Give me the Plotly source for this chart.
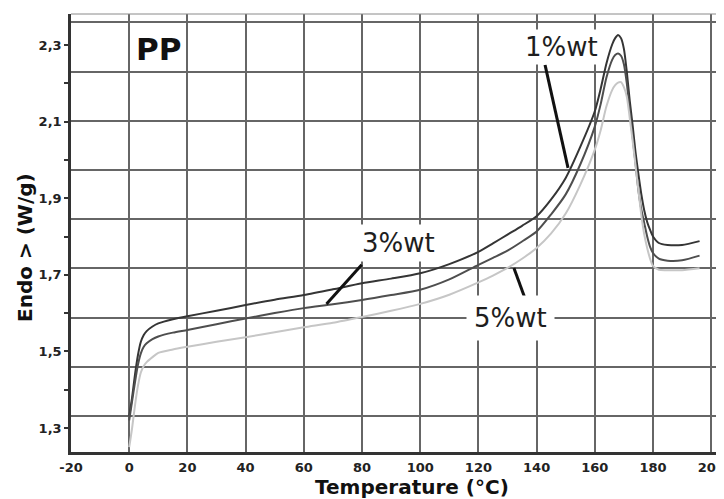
import plotly.graph_objects as go

# ---------------- data ----------------
temp_1 = [0, 1, 2, 3, 4, 5, 6, 8, 10, 15, 20, 30, 40, 50, 60, 70, 80, 90, 100, 110, 120, 125, 130,
          135, 140, 145, 150, 155, 160, 162, 164, 166, 167, 168, 169, 170, 171, 172, 173, 174, 175,
          176, 177, 178, 179, 180, 182, 185, 190, 196]
endo_1 = [1.33, 1.38, 1.44, 1.49, 1.525, 1.543, 1.553, 1.565, 1.573, 1.584, 1.592, 1.606, 1.621,
          1.635, 1.647, 1.662, 1.678, 1.690, 1.704, 1.728, 1.760, 1.782, 1.805, 1.828, 1.853,
          1.897, 1.953, 2.034, 2.127, 2.185, 2.252, 2.302, 2.318, 2.326, 2.318, 2.290, 2.230,
          2.155, 2.090, 2.020, 1.962, 1.910, 1.868, 1.838, 1.817, 1.800, 1.783, 1.778, 1.778, 1.788]

temp_3 = [0, 1, 2, 3, 4, 5, 6, 8, 10, 15, 20, 30, 40, 50, 60, 70, 80, 90, 100, 110, 120, 125, 130,
          135, 140, 145, 150, 155, 160, 162, 164, 166, 167, 168, 169, 170, 171, 172, 173, 174, 175,
          176, 177, 178, 179, 180, 182, 185, 190, 196]
endo_3 = [1.32, 1.37, 1.42, 1.465, 1.495, 1.512, 1.521, 1.532, 1.539, 1.549, 1.556, 1.571, 1.586,
          1.600, 1.613, 1.623, 1.634, 1.647, 1.661, 1.688, 1.726, 1.744, 1.763, 1.787, 1.813,
          1.858, 1.910, 1.988, 2.087, 2.145, 2.215, 2.262, 2.274, 2.278, 2.272, 2.250, 2.200,
          2.130, 2.060, 1.990, 1.920, 1.870, 1.835, 1.800, 1.773, 1.757, 1.742, 1.737, 1.738, 1.750]

temp_5 = [0, 1, 2, 3, 4, 5, 6, 8, 10, 15, 20, 30, 40, 50, 60, 70, 80, 90, 100, 110, 120, 125, 130,
          135, 140, 145, 150, 155, 160, 162, 164, 166, 167, 168, 169, 170, 171, 172, 173, 174, 175,
          176, 177, 178, 179, 180, 182, 185, 190, 196]
endo_5 = [1.25, 1.30, 1.36, 1.41, 1.445, 1.462, 1.472, 1.485, 1.496, 1.505, 1.512, 1.525, 1.537,
          1.550, 1.563, 1.575, 1.590, 1.606, 1.624, 1.648, 1.680, 1.698, 1.718, 1.742, 1.770,
          1.808, 1.860, 1.935, 2.027, 2.077, 2.140, 2.183, 2.195, 2.202, 2.203, 2.190, 2.165,
          2.110, 2.050, 1.985, 1.920, 1.855, 1.805, 1.770, 1.742, 1.723, 1.713, 1.712, 1.712, 1.717]

series_names = ["1%wt", "3%wt", "5%wt"]

x_tick_vals = [-20, 0, 20, 40, 60, 80, 100, 120, 140, 160, 180, 200]
x_tick_text = ["-20", "0", "20", "40", "60", "80", "100", "120", "140", "160", "180", "200"]
y_tick_vals = [1.3, 1.4, 1.5, 1.6, 1.7, 1.8, 1.9, 2.0, 2.1, 2.2, 2.3]
y_tick_text = ["1,3", "", "1,5", "", "1,7", "", "1,9", "", "2,1", "", "2,3"]

# ---------------- figure ----------------
# page body has an 8px margin; the plot area is placed so it runs to the window's right edge
FIG_W, FIG_H = 724, 491
X_RANGE = [-20, 204.4]
Y_RANGE = [1.2373, 2.381]
# horizontal grid of the original instrument plot is not aligned with the labelled ticks
GRID_Y0, GRID_DY = 1.331, 0.1285
grid_y = [GRID_Y0 + i * GRID_DY for i in range(9)]

FONT = "DejaVu Sans"

fig = go.Figure()
styles = [("#353535", 2.0), ("#4e4e4e", 2.0), ("#c6c6c6", 2.0)]
for (t, v), name, (col, w) in zip([(temp_1, endo_1), (temp_3, endo_3), (temp_5, endo_5)],
                                  series_names, styles):
    fig.add_trace(go.Scatter(x=t, y=v, mode="lines", name=name,
                             line=dict(color=col, width=w, shape="spline", smoothing=0.7),
                             showlegend=False, hoverinfo="skip"))

# top frame line
fig.add_shape(type="line", xref="paper", yref="paper", x0=0, x1=1, y0=1, y1=1,
              line=dict(color="#8a8a8a", width=1))

label_font = dict(family=FONT, size=26, color="#1e1e1e")
fig.add_annotation(x=148.4, y=2.294, xref="x", yref="y", text="1%wt", showarrow=False,
                   font=label_font, bgcolor="white", borderpad=2)
fig.add_annotation(x=92.4, y=1.784, xref="x", yref="y", text="3%wt", showarrow=False,
                   font=label_font, bgcolor="white", borderpad=3)
fig.add_annotation(x=131.2, y=1.587, xref="x", yref="y", text="5%wt", showarrow=False,
                   font=label_font, bgcolor="white", borderpad=7)
fig.add_annotation(x=10, y=2.29, xref="x", yref="y", text="<b>PP</b>", showarrow=False,
                   font=dict(family=FONT, size=31, color="#111111"))

# leader lines (annotation pointers), drawn above the label boxes
leaders = [
    dict(x0=142.9, y0=2.248, x1=150.8, y1=1.979),   # 1%wt
    dict(x0=79.9, y0=1.726, x1=67.8, y1=1.624),     # 3%wt
    dict(x0=132.2, y0=1.718, x1=136.0, y1=1.639),   # 5%wt
]
for ld in leaders:
    fig.add_shape(type="line", xref="x", yref="y", line=dict(color="#111111", width=3), **ld)

# axis titles
fig.add_annotation(x=0.522, y=-0.0799, xref="paper", yref="paper", text="<b>Temperature (°C)</b>",
                   showarrow=False, xanchor="center", yanchor="middle",
                   font=dict(family=FONT, size=20, color="#111111"))
fig.add_annotation(x=-0.0704, y=0.466, xref="paper", yref="paper", text="<b>Endo > (W/g)</b>",
                   showarrow=False, xanchor="center", yanchor="middle", textangle=-90,
                   font=dict(family=FONT, size=20, color="#111111"))

tick_font = dict(family=FONT, size=13, color="#222222", weight="bold")

fig.update_layout(
    width=FIG_W, height=FIG_H,
    margin=dict(l=63, r=8, t=6, b=47),
    paper_bgcolor="white", plot_bgcolor="white",
    xaxis=dict(range=X_RANGE, tickmode="array", tickvals=x_tick_vals, ticktext=x_tick_text,
               showgrid=True, gridcolor="#666666", gridwidth=1.5, zeroline=False,
               showline=True, linecolor="#333333", linewidth=2.5, ticks="",
               tickfont=tick_font, ticklabelstandoff=2),
    yaxis=dict(range=Y_RANGE, tickmode="array", tickvals=y_tick_vals, ticktext=y_tick_text,
               showgrid=False, zeroline=False, showline=True, linecolor="#333333",
               linewidth=2.5, ticks="outside", ticklen=4, tickwidth=1.5, tickcolor="#333333",
               tickfont=tick_font,
               minor=dict(tickmode="array", tickvals=grid_y, showgrid=True,
                          gridcolor="#666666", gridwidth=1.5, ticks="")),
)

fig.write_html("out.html")
